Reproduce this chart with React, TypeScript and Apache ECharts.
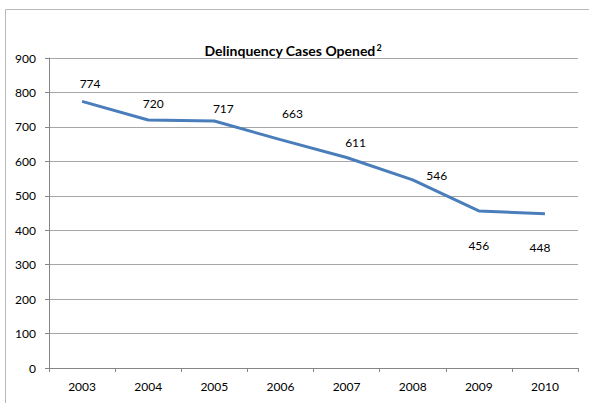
import React, { useEffect, useRef } from "react";
import * as echarts from "echarts";

const years = ["2003", "2004", "2005", "2006", "2007", "2008", "2009", "2010"];
const casesOpened = [774, 720, 717, 663, 611, 546, 456, 448];
const yTicks = { min: 0, max: 900, interval: 100 };
const titleText = "Delinquency Cases Opened";
const titleSup = "2";

// label placement (layout only): offset of each value label from its point
const labelOffsets: [number, number][] = [
  [8, -18],
  [5, -17],
  [9, -13],
  [12, -26],
  [9, -15],
  [24, -4],
  [0, 35],
  [-5, 34],
];

const FONT = "Lato, 'Open Sans', sans-serif";

export default function App() {
  const ref = useRef<HTMLDivElement>(null);
  useEffect(() => {
    if (!ref.current) return;
    const chart = echarts.init(ref.current, undefined, { renderer: "svg" });
    chart.setOption({
      animation: false,
      backgroundColor: "#ffffff",
      textStyle: { fontFamily: FONT },
      title: {
        text: `${titleText}{sup|${titleSup}}`,
        left: 288,
        top: 38,
        textAlign: "center",
        textStyle: {
          fontFamily: FONT,
          fontSize: 14,
          fontWeight: "bold",
          color: "#000",
          rich: {
            sup: {
              fontFamily: FONT,
              fontSize: 9,
              fontWeight: "bold",
              color: "#000",
              padding: [0, 0, 6, 1],
            },
          },
        },
      },
      graphic: [
        {
          type: "rect",
          shape: { x: 5.5, y: 9.5, width: 700, height: 600 },
          style: { fill: "none", stroke: "#b8b8b8", lineWidth: 1 },
          silent: true,
        },
      ],
      grid: { left: 49, right: 11, top: 58, bottom: 35, containLabel: false },
      xAxis: {
        type: "category",
        data: years,
        boundaryGap: true,
        axisLine: { show: true, lineStyle: { color: "#868686", width: 1 } },
        axisTick: { show: true, length: 4, alignWithLabel: false, lineStyle: { color: "#868686" } },
        axisLabel: { fontFamily: FONT, fontSize: 12, color: "#000", margin: 12 },
        splitLine: { show: false },
      },
      yAxis: {
        type: "value",
        min: yTicks.min,
        max: yTicks.max,
        interval: yTicks.interval,
        axisLine: { show: true, lineStyle: { color: "#868686", width: 1 } },
        axisTick: { show: true, length: 4, lineStyle: { color: "#868686" } },
        axisLabel: { fontFamily: FONT, fontSize: 12, color: "#000", margin: 13 },
        splitLine: { show: true, lineStyle: { color: "#a6a6a6", width: 1 } },
      },
      series: [
        {
          type: "line",
          data: casesOpened.map((v, i) => ({
            value: v,
            label: { offset: labelOffsets[i] },
          })),
          showSymbol: true,
          symbol: "circle",
          symbolSize: 0.01,
          itemStyle: { color: "#4a7ebb" },
          lineStyle: { color: "#4a7ebb", width: 3 },
          label: {
            show: true,
            position: "inside",
            fontFamily: FONT,
            fontSize: 12,
            color: "#000",
          },
          emphasis: { disabled: true },
        },
      ],
    });
    return () => chart.dispose();
  }, []);
  return (
    <div
      ref={ref}
      style={{ position: "absolute", left: 0, top: 0, width: 589, height: 403 }}
    />
  );
}
